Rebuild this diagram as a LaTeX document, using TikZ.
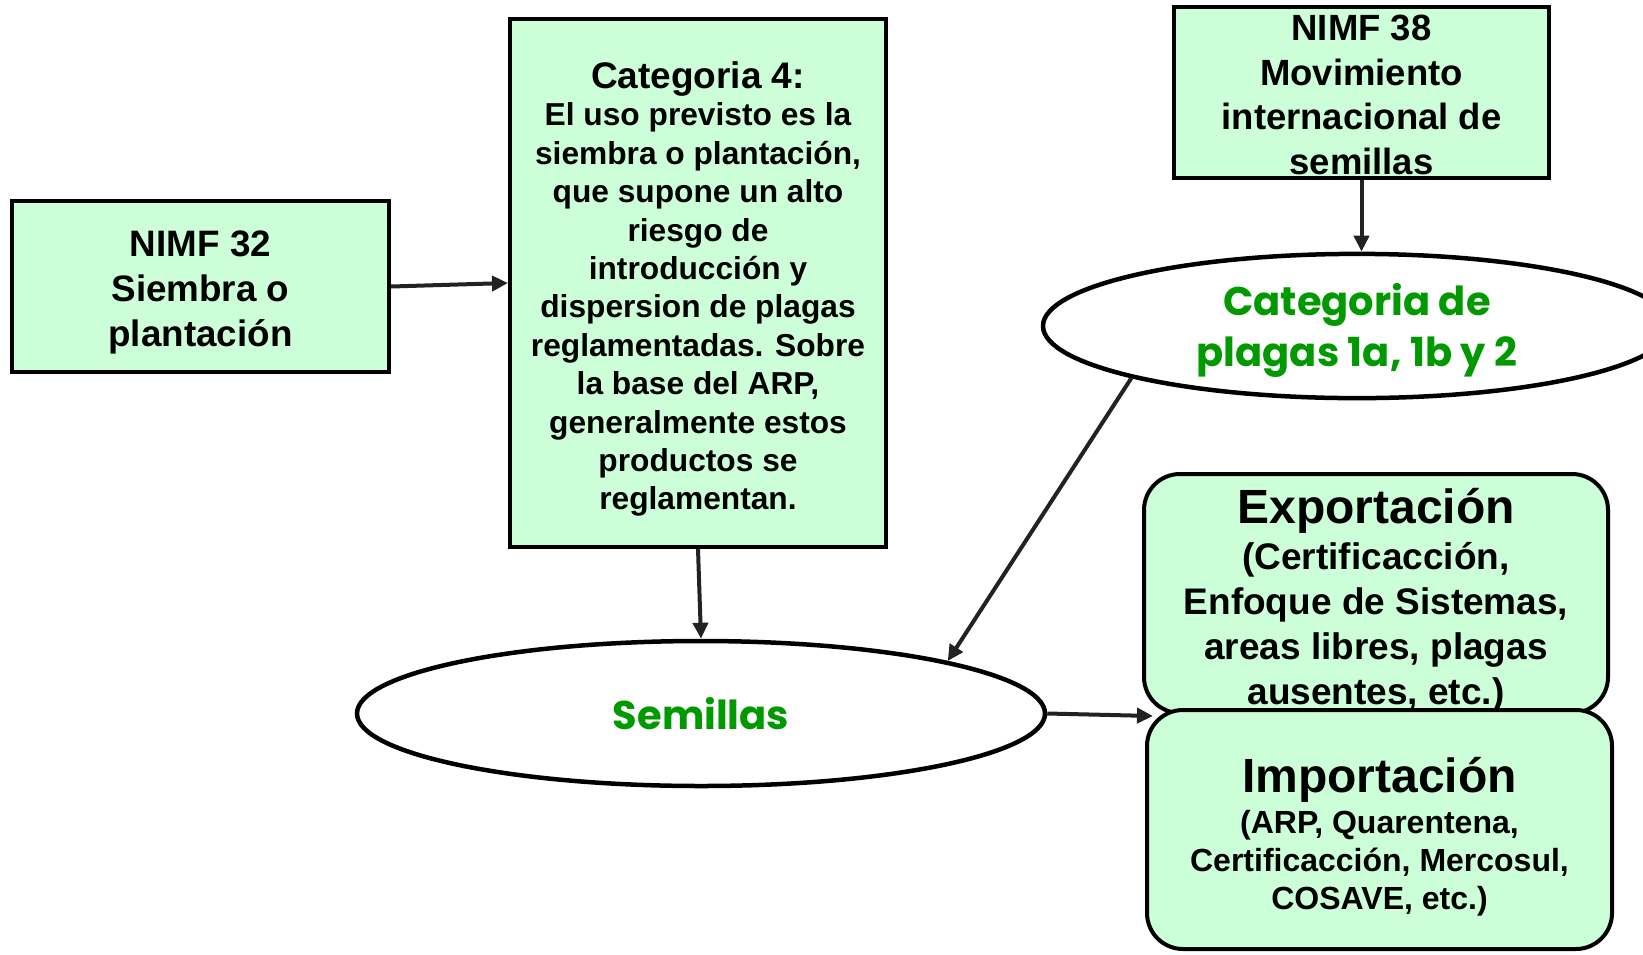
\documentclass[tikz,border=0pt]{standalone}
\usepackage{fontspec}
\setmainfont{Liberation Sans}
\newfontfamily\ralefont{Poppins}
\usetikzlibrary{shapes.geometric,arrows.meta}
\definecolor{boxfill}{RGB}{204,255,216}
\definecolor{plaggreen}{RGB}{0,153,0}
\definecolor{arrowgray}{RGB}{34,34,34}
\begin{document}
\begin{tikzpicture}[x=1pt,y=-1pt,
  box/.style={draw=black, line width=4pt, fill=boxfill, rectangle, inner sep=0pt, align=center},
  rbox/.style={box, rounded corners=36pt},
  oval/.style={draw=black, line width=4.5pt, fill=white, ellipse, inner sep=0pt, align=center, text=plaggreen},
  conn/.style={draw=arrowgray, line width=4pt, -{Triangle[length=16pt,width=15pt]}}]
\useasboundingbox (0,0) rectangle (1643,954);

\node[box, minimum width=377pt, minimum height=171pt,
  font=\bfseries\fontsize{36.8}{45}\selectfont] (n32) at (200.5,286.5)
  {\rule{0pt}{37pt}NIMF 32\\Siembra o\\plantación};

\node[box, minimum width=376pt, minimum height=528pt,
  font=\bfseries\fontsize{31.7}{38.4}\selectfont] (c4) at (698,283)
  {{\fontsize{37}{41}\selectfont\rule{0pt}{39pt}Categoria 4:}\\[-1pt]El uso previsto es la\\siembra o plantación,\\que supone un alto\\riesgo de\\introducción y\\dispersion de plagas\\reglamentadas. Sobre\\la base del ARP,\\generalmente estos\\productos se\\reglamentan.};

\node[box, minimum width=375pt, minimum height=171pt,
  font=\bfseries\fontsize{36.5}{44.6}\selectfont] (n38) at (1361.5,92.5)
  {\rule{0pt}{30pt}NIMF 38\\Movimiento\\internacional de\\semillas};

\node[oval, minimum width=628pt, minimum height=142pt,
  font=\ralefont\bfseries\fontsize{40}{51}\selectfont] (cp) at (1357,326)
  {\rule{0pt}{40pt}Categoria de\\plagas 1a, 1b y 2};

\node[oval, minimum width=688pt, minimum height=145pt,
  font=\ralefont\bfseries\fontsize{40}{51}\selectfont] (sem) at (701,713.5)
  {Semillas};

\node[rbox, minimum width=464pt, minimum height=239pt, text height=222pt, text depth=0pt,
  font=\bfseries\fontsize{37}{45}\selectfont] (exp) at (1376,593.5)
  {{\fontsize{48}{50}\selectfont Exportación}\\[0.7pt](Certificacción,\\Enfoque de Sistemas,\\areas libres, plagas\\ausentes, etc.)};

\node[rbox, minimum width=465pt, minimum height=239pt, text height=160pt, text depth=0pt,
  font=\bfseries\fontsize{32}{38}\selectfont] (imp) at (1379.5,829.5)
  {{\fontsize{48}{50}\selectfont Importación}\\[3.2pt](ARP, Quarentena,\\Certificacción, Mercosul,\\COSAVE, etc.)};

\coordinate (junc) at (1153,716);

\draw[conn] (n32.east) -- (c4.west);
\draw[conn] (c4.south) -- (sem.north);
\draw[conn] (n38.south) -- (n38.south |- cp.north);
\draw[conn] (cp.193.3) -- (sem.12);
\draw[conn] (sem.east) -- (junc);
\end{tikzpicture}
\end{document}
